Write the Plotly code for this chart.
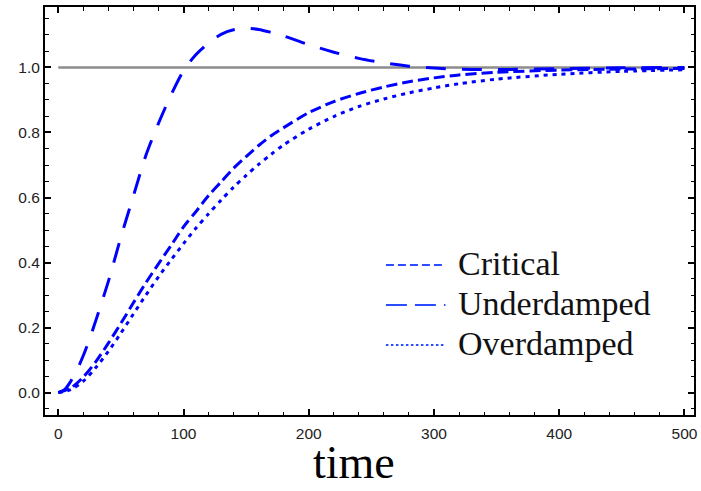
import plotly.graph_objects as go

# Step responses of a second-order system (time, response)
t_critical = [0, 10, 20, 30, 40, 50, 60, 70, 80, 90, 100, 110, 120, 130, 140, 150,
              160, 170, 180, 200, 220, 240, 260, 280, 300, 320, 350, 400, 450, 500]
y_critical = [0.0, 0.014, 0.048, 0.095, 0.152, 0.213, 0.276, 0.338, 0.396, 0.452,
              0.51, 0.557, 0.606, 0.648, 0.69, 0.726, 0.76, 0.79, 0.815, 0.861,
              0.895, 0.92, 0.94, 0.956, 0.968, 0.977, 0.985, 0.992, 0.995, 0.997]

t_under = [0, 5, 10, 15, 20, 25, 30, 40, 50, 60, 70, 80, 90, 100, 110, 120, 130,
           140, 150, 160, 170, 180, 200, 220, 240, 260, 280, 300, 330, 360, 400,
           450, 500]
y_under = [0.0, 0.009, 0.035, 0.07, 0.114, 0.165, 0.222, 0.342, 0.478, 0.605,
           0.73, 0.828, 0.915, 0.99, 1.04, 1.075, 1.102, 1.116, 1.12, 1.117,
           1.108, 1.097, 1.07, 1.047, 1.028, 1.014, 1.004, 0.998, 0.994, 0.994,
           0.996, 0.999, 1.0]

t_over = [0, 10, 20, 30, 40, 50, 60, 70, 80, 90, 100, 110, 120, 130, 140, 150, 160,
          170, 180, 200, 220, 240, 260, 280, 300, 320, 350, 400, 450, 500]
y_over = [0.0, 0.009, 0.035, 0.077, 0.127, 0.183, 0.242, 0.3, 0.356, 0.408, 0.458,
          0.506, 0.55, 0.592, 0.632, 0.668, 0.702, 0.733, 0.762, 0.81, 0.849,
          0.88, 0.903, 0.922, 0.937, 0.95, 0.964, 0.979, 0.988, 0.993]

setpoint_t = [0, 500]
setpoint_y = [1.0, 1.0]

x_ticks = [0, 100, 200, 300, 400, 500]
y_ticks = [0.0, 0.2, 0.4, 0.6, 0.8, 1.0]

legend_names = ["Critical", "Underdamped", "Overdamped"]
dash_styles = ["11px,5px", "20px,16px", "4px,5px"]
legend_dashes = ["8px,4px", "21px,8px", "2.5px,2.5px"]

BLUE = "#0000ff"
LEGEND_BLUE = "#2b4dff"

fig = go.Figure()

fig.add_trace(go.Scatter(x=setpoint_t, y=setpoint_y, mode="lines",
                         line=dict(color="#8c8c8c", width=2.5),
                         showlegend=False, hoverinfo="skip"))

for ts, ys, dash in [(t_critical, y_critical, dash_styles[0]),
                     (t_under, y_under, dash_styles[1]),
                     (t_over, y_over, dash_styles[2])]:
    fig.add_trace(go.Scatter(x=ts, y=ys, mode="lines",
                             line=dict(color=BLUE, width=3, dash=dash, shape="spline",
                                       smoothing=0.8),
                             showlegend=False))

# Hand-placed legend: short line samples with serif labels
row_y = [0.3676, 0.2696, 0.1716]
for name, dash, yy in zip(legend_names, legend_dashes, row_y):
    fig.add_shape(type="line", xref="paper", yref="paper",
                  x0=0.5253, x1=0.6170, y0=yy, y1=yy,
                  line=dict(color=LEGEND_BLUE, width=2, dash=dash))
    fig.add_annotation(text=name, xref="paper", yref="paper", x=0.634, y=yy + 0.004,
                       xanchor="left", yanchor="middle", showarrow=False,
                       font=dict(family="Liberation Serif", size=34, color="#111111"))

# Axis label, kept inside the bottom edge of the page
fig.add_annotation(text="time", xref="paper", yref="paper", x=0.476, y=-0.183,
                   xanchor="center", yanchor="bottom", showarrow=False,
                   font=dict(family="Liberation Serif", size=46, color="#000000"))

axis_common = dict(showline=True, linecolor="black", linewidth=2, mirror="ticks",
                   ticks="inside", ticklen=6, tickwidth=1.5, tickcolor="black",
                   showgrid=False, zeroline=False,
                   tickfont=dict(family="Liberation Sans", size=15.5, color="#222222"))

fig.update_xaxes(range=[-10.6, 507.6], tickvals=x_ticks, ticklabelstandoff=3,
                 minor=dict(ticks="inside", ticklen=3.5, tickwidth=1.2,
                            tickcolor="black", dtick=20, tick0=0),
                 **axis_common)
fig.update_yaxes(range=[-0.069, 1.186], tickvals=y_ticks, tickformat=".1f",
                 minor=dict(ticks="inside", ticklen=3.5, tickwidth=1.2,
                            tickcolor="black", dtick=0.05, tick0=0),
                 **axis_common)

fig.update_layout(width=701, height=491,
                  margin=dict(l=45, r=3, t=7, b=76, pad=0),
                  paper_bgcolor="white", plot_bgcolor="white",
                  showlegend=False)

fig.write_html("out.html")
